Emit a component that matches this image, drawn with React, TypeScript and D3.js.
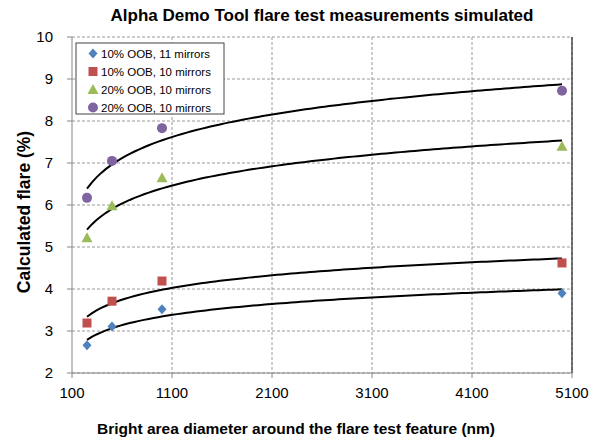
import React from "react";
import * as d3 from "d3";

// bright area diameter (nm)
const diameters = [250, 500, 1000, 5000];

const seriesNames = [
  "10% OOB, 11 mirrors",
  "10% OOB, 10 mirrors",
  "20% OOB, 10 mirrors",
  "20% OOB, 10 mirrors",
];
const seriesColors = ["#4F81BD", "#C0504D", "#9BBB59", "#8064A2"];
const seriesShapes = ["diamond", "square", "triangle", "circle"];

const oob10m11 = [2.66, 3.11, 3.52, 3.9];
const oob10m10 = [3.19, 3.71, 4.19, 4.62];
const oob20m10a = [5.22, 5.98, 6.65, 7.4];
const oob20m10b = [6.17, 7.05, 7.83, 8.72];

const xTicks = [100, 1100, 2100, 3100, 4100, 5100];
const yTicks = [2, 3, 4, 5, 6, 7, 8, 9, 10];

const W = 593;
const H = 441;
const margin = { top: 37, right: 21, bottom: 68, left: 72 };
const font = "'Liberation Sans', Arial, sans-serif";

// Excel style logarithmic trendline: y = a + b ln(x)
const logFit = (xs: number[], ys: number[]) => {
  const lx = xs.map(Math.log);
  const mx = d3.mean(lx)!;
  const my = d3.mean(ys)!;
  const sxy = d3.sum(lx, (v, i) => (v - mx) * (ys[i] - my));
  const sxx = d3.sum(lx, (v) => (v - mx) * (v - mx));
  const b = sxy / sxx;
  const a = my - b * mx;
  return (x: number) => a + b * Math.log(x);
};

const Marker = ({ shape, color, x, y }: { shape: string; color: string; x: number; y: number }) => {
  if (shape === "diamond")
    return <path d={`M${x},${y - 5}L${x + 4.5},${y}L${x},${y + 5}L${x - 4.5},${y}Z`} fill={color} />;
  if (shape === "square")
    return <rect x={x - 4.5} y={y - 4.5} width={9} height={9} fill={color} />;
  if (shape === "triangle")
    return <path d={`M${x},${y - 5.5}L${x + 5.5},${y + 4.5}L${x - 5.5},${y + 4.5}Z`} fill={color} />;
  return <circle cx={x} cy={y} r={5} fill={color} />;
};

export default function App() {
  const x = d3.scaleLinear().domain([100, 5100]).range([margin.left, W - margin.right]);
  const y = d3.scaleLinear().domain([2, 10]).range([H - margin.bottom, margin.top]);

  const series = [oob10m11, oob10m10, oob20m10a, oob20m10b];

  const xMin = d3.min(diameters)!;
  const xMax = d3.max(diameters)!;
  const samples = d3.range(0, 101).map((i) => xMin + ((xMax - xMin) * i) / 100);
  const line = d3
    .line<[number, number]>()
    .x((d) => x(d[0]))
    .y((d) => y(d[1]));

  const x0 = margin.left;
  const x1 = W - margin.right;
  const y0 = margin.top;
  const y1 = H - margin.bottom;

  return (
    <svg width={W} height={H} style={{ position: "absolute", left: 0, top: 0, background: "#fff" }}>
      <rect width={W} height={H} fill="#fff" />

      {/* grid */}
      {yTicks.map((t) => (
        <line key={"gy" + t} x1={x0} x2={x1} y1={y(t)} y2={y(t)} stroke="#9a9a9a" strokeWidth={1} strokeDasharray="3,2" />
      ))}
      {xTicks.slice(1).map((t) => (
        <line key={"gx" + t} x1={x(t)} x2={x(t)} y1={y0} y2={y1} stroke="#9a9a9a" strokeWidth={1} strokeDasharray="3,2" />
      ))}
      <line x1={x1} x2={x1} y1={y0} y2={y1} stroke="#222" strokeWidth={1.2} />

      {/* axes */}
      <line x1={x0} x2={x0} y1={y0} y2={y1} stroke="#868686" strokeWidth={1} />
      <line x1={x0} x2={x1} y1={y1} y2={y1} stroke="#868686" strokeWidth={1} />
      {yTicks.map((t) => (
        <g key={"ty" + t}>
          <line x1={x0 - 5} x2={x0} y1={y(t)} y2={y(t)} stroke="#868686" />
          <text x={x0 - 19} y={y(t)} dy="0.35em" textAnchor="end" fontSize={15} fontFamily={font} fill="#000">
            {t}
          </text>
        </g>
      ))}
      {xTicks.map((t) => (
        <g key={"tx" + t}>
          <line x1={x(t)} x2={x(t)} y1={y1} y2={y1 + 5} stroke="#868686" />
          <text x={x(t)} y={398} textAnchor="middle" fontSize={15} fontFamily={font} fill="#000">
            {t}
          </text>
        </g>
      ))}

      {/* trendlines */}
      {series.map((s, i) => {
        const f = logFit(diameters, s);
        return (
          <path
            key={"tr" + i}
            d={line(samples.map((v) => [v, f(v)] as [number, number])) || ""}
            fill="none"
            stroke="#000"
            strokeWidth={2}
          />
        );
      })}

      {/* markers */}
      {series.map((s, i) =>
        s.map((v, j) => (
          <Marker key={`m${i}-${j}`} shape={seriesShapes[i]} color={seriesColors[i]} x={x(diameters[j])} y={y(v)} />
        ))
      )}

      {/* legend */}
      <rect x={76} y={43} width={148} height={71} fill="#fff" stroke="#444" strokeWidth={1} />
      {seriesNames.map((n, i) => (
        <g key={"lg" + i}>
          <Marker shape={seriesShapes[i]} color={seriesColors[i]} x={93} y={53.5 + i * 18} />
          <text x={101} y={53.5 + i * 18} dy="0.35em" fontSize={11.5} fontFamily={font} fill="#000">
            {n}
          </text>
        </g>
      ))}

      {/* titles */}
      <text x={322} y={21} textAnchor="middle" fontSize={17} fontWeight="bold" fontFamily={font} fill="#000">
        Alpha Demo Tool flare test measurements simulated
      </text>
      <text x={296} y={434} textAnchor="middle" fontSize={15.5} fontWeight="bold" fontFamily={font} fill="#000">
        Bright area diameter around the flare test feature (nm)
      </text>
      <text
        transform={`translate(30,212) rotate(-90)`}
        textAnchor="middle"
        fontSize={17.5}
        fontWeight="bold"
        fontFamily={font}
        fill="#000"
      >
        Calculated flare (%)
      </text>
    </svg>
  );
}
